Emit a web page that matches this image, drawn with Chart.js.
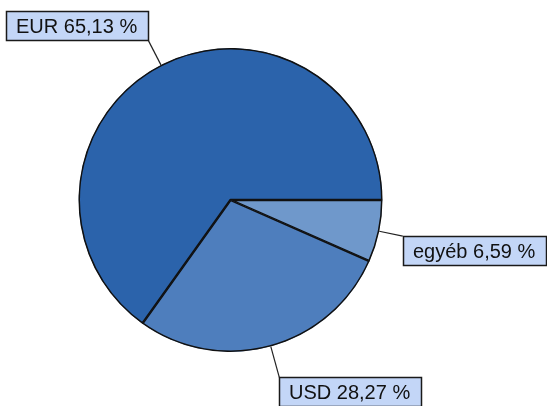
<!DOCTYPE html>
<html>
<head>
<meta charset="utf-8">
<script src="https://cdn.jsdelivr.net/npm/chart.js@4.4.0/dist/chart.umd.min.js"></script>
<style>
    html, body { margin: 0; padding: 0; background: #fff; }
    #wrap { width: 547px; height: 406px; position: relative; }
</style>
</head>
<body>
<div id="wrap"><canvas id="chart" width="547" height="406"></canvas></div>
<script>
// slices, clockwise from 3 o'clock
const categories = ["egyéb", "USD", "EUR"];
const shares = [6.59, 28.27, 65.13];
const sliceColors = ["#6F98CB", "#4E7EBD", "#2B63AB"];

// how far the leader line goes past the rim, per slice
const leaderExt = [24, 32, 27];

const labelPlugin = {
    id: "boxLabels",
    afterDraw(chart) {
        const ctx = chart.ctx;
        const meta = chart.getDatasetMeta(0);
        ctx.save();
        ctx.font = "20px 'Liberation Sans', Arial, sans-serif";
        ctx.textBaseline = "middle";
        meta.data.forEach((arc, i) => {
            const p = arc.getProps(["x", "y", "startAngle", "endAngle", "outerRadius"], true);
            const mid = (p.startAngle + p.endAngle) / 2;
            const x0 = p.x + Math.cos(mid) * p.outerRadius;
            const y0 = p.y + Math.sin(mid) * p.outerRadius;
            const r1 = p.outerRadius + leaderExt[i];
            const x1 = p.x + Math.cos(mid) * r1;
            const y1 = p.y + Math.sin(mid) * r1;

            const text = `${categories[i]} ${shares[i].toFixed(2).replace(".", ",")} %`;
            const w = Math.round(ctx.measureText(text).width + 21);
            const h = 29;
            let bx, by;
            if (Math.cos(mid) >= 0) {
                bx = Math.round(x1);
                by = Math.round(y1);
            } else {
                bx = Math.round(x1) - w - 1;
                by = Math.round(y1) - h - 1;
            }

            ctx.strokeStyle = "#222";
            ctx.lineWidth = 1.2;
            ctx.beginPath();
            ctx.moveTo(x0, y0);
            ctx.lineTo(x1, y1);
            ctx.stroke();

            ctx.fillStyle = "#C3D6F7";
            ctx.fillRect(bx + 0.5, by + 0.5, w, h);
            ctx.lineWidth = 1.5;
            ctx.strokeStyle = "#1a1a1a";
            ctx.strokeRect(bx + 0.5, by + 0.5, w, h);

            ctx.fillStyle = "#111";
            ctx.fillText(text, bx + 10, by + h / 2 + 1.5);
        });
        ctx.restore();
    }
};

const ctx = document.getElementById("chart").getContext("2d");
const chart = new Chart(ctx, {
    "type": "pie",
    "data": {
        "labels": categories,
        "datasets": [{
            "data": shares,
            "backgroundColor": sliceColors,
            "borderColor": "#111",
            "borderWidth": 1.2,
            "borderAlign": "inner"
        }]
    },
    "options": {
        "responsive": false,
        "animation": false,
        "rotation": 90,
        "radius": 152,
        "layout": {
            "padding": { "left": 79, "right": 165, "top": 48, "bottom": 54 }
        },
        "plugins": {
            "legend": { "display": false },
            "tooltip": { "enabled": false }
        }
    },
    "plugins": [labelPlugin]
});
</script>
</body>
</html>
